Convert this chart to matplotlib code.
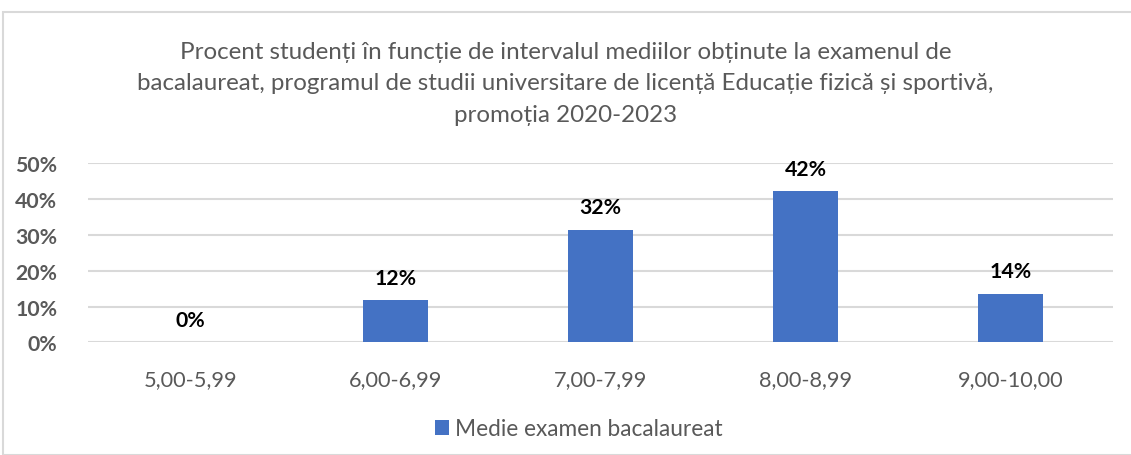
import matplotlib.pyplot as plt
from matplotlib.patches import Rectangle

# Date
categorii = ['5,00-5,99', '6,00-6,99', '7,00-7,99', '8,00-8,99', '9,00-10,00']
procente = [0.0, 11.9, 31.5, 42.3, 13.6]
etichete = ['0%', '12%', '32%', '42%', '14%']
y_ticks = [0, 10, 20, 30, 40, 50]

titlu = ('Procent studenți în funcție de intervalul mediilor obținute la examenul de\n'
         'bacalaureat, programul de studii universitare de licență Educație fizică și sportivă,\n'
         'promoția 2020-2023')

plt.rcParams['font.family'] = ['Lato', 'DejaVu Sans']

fig = plt.figure(figsize=(11.31, 4.56), dpi=100)
ax = fig.add_axes([0.0778, 0.247, 0.9062, 0.3927])

# Chenarul graficului
fig.patches.append(Rectangle((3 / 1131, 0), 1.0, 1 - 13 / 456, transform=fig.transFigure,
                             fill=False, edgecolor='#D9D9D9', linewidth=1.5))

x = range(len(categorii))
ax.bar(x, procente, width=0.32, color='#4472C4', zorder=3, label='Medie examen bacalaureat')

for i, (v, t) in enumerate(zip(procente, etichete)):
    ax.text(i, v + 3.4, t, ha='center', va='bottom', fontsize=15.3, fontweight='bold', color='black')

ax.set_xlim(-0.5, len(categorii) - 0.5)
ax.set_ylim(0, 50)
ax.set_yticks(y_ticks)
ax.set_yticklabels([f'{t}%' for t in y_ticks], fontsize=15.3, fontweight='bold', color='#595959')
ax.set_xticks(list(x))
ax.set_xticklabels(categorii, fontsize=15.7, color='#595959')
ax.tick_params(axis='both', length=0)
ax.tick_params(axis='y', pad=22)
ax.tick_params(axis='x', pad=19)
ax.grid(axis='y', color='#D9D9D9', linewidth=1.5, zorder=0)
ax.set_axisbelow(True)
for s in ax.spines.values():
    s.set_visible(False)

fig.text(0.5, 1 - 84 / 456, titlu, ha='center', va='center', fontsize=17.4, color='#595959',
         linespacing=1.62)

fig.legend(loc='center', bbox_to_anchor=(0.512, 1 - 430 / 456), frameon=False, fontsize=16.3,
           handlelength=0.6, handleheight=0.6, handletextpad=0.3, labelcolor='#595959')

fig.savefig('out.png', dpi=100)
